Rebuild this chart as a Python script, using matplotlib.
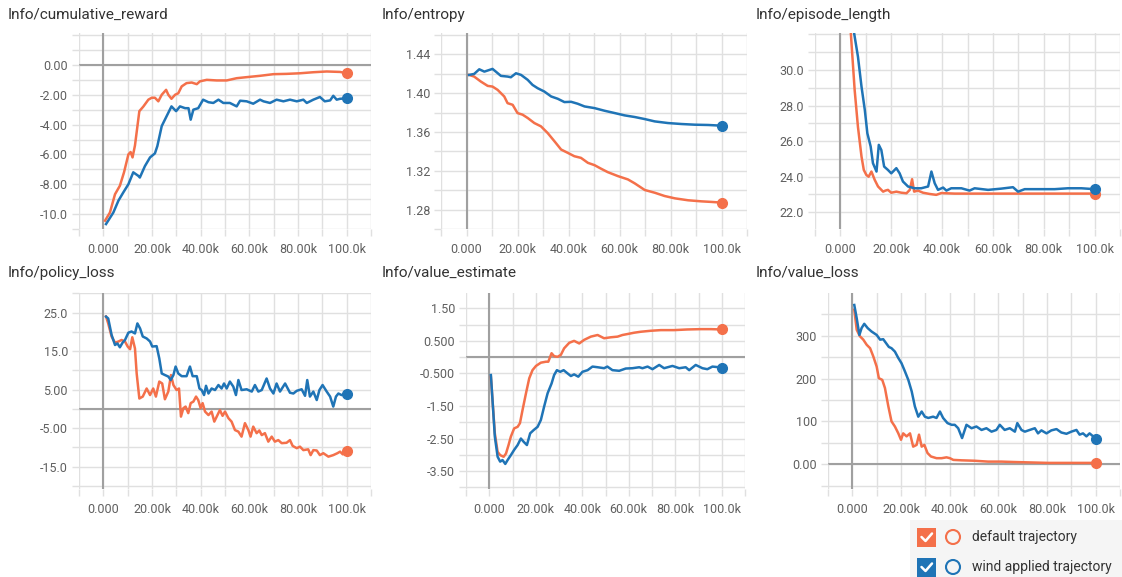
import numpy as np
import matplotlib
matplotlib.use("Agg")
import matplotlib.pyplot as plt
from matplotlib.patches import Rectangle, Circle

plt.rcParams['font.family'] = ['Roboto', 'DejaVu Sans']

ORANGE = '#f4704a'
BLUE = '#1f74b6'
GRID = '#e0e0e0'
ZERO = '#a0a0a0'

# steps are in thousands
# --- cumulative reward
reward_x_def = [0.7, 2.7, 4.8, 6.8, 8.5, 10.3, 11.2, 12, 13, 14.8, 16.4, 18.5, 19.9, 21.2, 22.6, 24, 25.8, 26.7, 28,
                29.5, 30.8, 32.2, 34.2, 36.3, 38.4, 39.7, 42.5, 46.6, 50.7, 54.8, 58.9, 64.4, 69.9, 75.3, 80.8, 86.3,
                91.8, 97.3, 100]
reward_def = [-10.44, -9.9, -8.67, -8.1, -7.2, -6.0, -5.84, -6.2, -5.4, -3.1, -2.8, -2.33, -2.2, -2.2, -2.44, -2.0,
              -1.67, -2.0, -2.27, -2.0, -1.9, -1.44, -1.22, -1.18, -1.29, -1.1, -1.0, -1.04, -1.04, -0.89, -0.82,
              -0.73, -0.62, -0.6, -0.56, -0.49, -0.44, -0.47, -0.56]
reward_x_wind = [1.1, 2, 4.1, 6.2, 8.2, 10.3, 12.3, 14.4, 15, 17.1, 19.2, 21.2, 22.2, 24, 26, 28, 29.9, 31.5, 33.6, 35,
                 35.9, 37, 39, 41, 43.2, 45.2, 47.3, 49.3, 52, 54.8, 56.2, 58.9, 61.6, 64.4, 65.8, 68.5, 71.2, 74,
                 76.7, 79.5, 82.2, 83.6, 86.3, 89, 91, 93.2, 94.5, 95.9, 97.3, 100]
reward_wind = [-10.67, -10.44, -9.9, -9.1, -8.55, -8.0, -7.2, -7.44, -7.55, -6.78, -6.2, -5.93, -5.44, -4.1, -3.44,
               -2.78, -3.1, -2.78, -2.9, -2.9, -3.67, -3.0, -2.9, -2.33, -2.5, -2.55, -2.33, -2.55, -2.55, -2.78,
               -2.4, -2.44, -2.6, -2.33, -2.44, -2.55, -2.33, -2.44, -2.33, -2.44, -2.33, -2.55, -2.33, -2.15,
               -2.44, -2.38, -2.07, -2.33, -2.27, -2.24]

# --- entropy
entropy_x_def = [1, 3, 5.6, 8.3, 10.2, 12.2, 14.8, 16.1, 18.1, 20, 22, 24, 26.6, 29.2, 31.8, 34.5, 37.1, 39.7, 42.3,
                 44.9, 47.6, 50.2, 52.8, 55.4, 59.4, 63.3, 66, 69.9, 73.8, 77.7, 81.7, 86.9, 92.1, 96.1, 100]
entropy_def = [1.4188, 1.4171, 1.412, 1.4075, 1.4068, 1.4034, 1.3966, 1.3897, 1.388, 1.3795, 1.3778, 1.3744, 1.3692,
               1.3658, 1.359, 1.3504, 1.3419, 1.3385, 1.335, 1.3333, 1.3282, 1.3258, 1.3221, 1.3186, 1.3145, 1.3111,
               1.307, 1.3002, 1.2974, 1.294, 1.2916, 1.2896, 1.2885, 1.2879, 1.2872]
entropy_x_wind = [1, 3, 5, 7, 10.2, 11.5, 13.5, 16.1, 17.4, 19.4, 21.4, 24, 25.9, 27.9, 30.5, 33.2, 35.8, 38.4, 41,
                  43.6, 46.3, 50.2, 54.1, 58.1, 62, 66, 69.9, 73.8, 79, 84.3, 89.5, 94.8, 100]
entropy_wind = [1.4188, 1.4198, 1.4246, 1.4222, 1.425, 1.4222, 1.4178, 1.4171, 1.4164, 1.4205, 1.4188, 1.4137,
                1.4085, 1.4051, 1.4017, 1.3966, 1.3942, 1.3908, 1.3911, 1.3891, 1.3863, 1.3846, 1.3819, 1.3795,
                1.3771, 1.3754, 1.3733, 1.3709, 1.3692, 1.3682, 1.3675, 1.3672, 1.3665]

# --- episode length
eplen_x_def = [3.0, 4.1, 5.6, 6.9, 8.3, 9.2, 10.2, 11.1, 12.2, 13.5, 14.8, 16.8, 17.7, 18.7, 20, 22, 24, 26, 27.3,
               28.2, 29, 30.5, 32.5, 35.1, 37.7, 39.7, 45, 55.4, 68.5, 81.7, 100]
eplen_def = [38.0, 32.06, 28.88, 26.8, 25.13, 24.38, 24.1, 24.0, 24.29, 23.82, 23.45, 23.16, 23.22, 23.26, 23.1,
             23.16, 23.1, 23.07, 23.26, 23.86, 23.16, 23.22, 23.1, 23.03, 22.98, 23.08, 23.05, 23.05, 23.05, 23.05,
             23.05]
eplen_x_wind = [3.5, 5.4, 6.9, 8.3, 9.6, 10.6, 11.9, 12.8, 14.2, 15.1, 16.1, 17.2, 18.7, 20, 22, 23.3, 24.6, 26.6,
                29.2, 31.8, 34.5, 35.8, 37.1, 38.4, 40.4, 41.7, 43.6, 47.6, 50.8, 52.8, 58.1, 63.3, 67.9, 69.9,
                72.5, 77.7, 84.3, 89.5, 94.8, 100]
eplen_wind = [38.0, 32.06, 30.75, 29.06, 27.75, 26.44, 25.7, 24.76, 24.29, 25.79, 25.5, 24.57, 24.38, 24.19, 24.48,
              24.19, 23.73, 23.45, 23.35, 23.35, 23.45, 24.29, 23.63, 23.26, 23.39, 23.22, 23.35, 23.35, 23.22,
              23.35, 23.26, 23.33, 23.41, 23.16, 23.3, 23.3, 23.3, 23.35, 23.35, 23.3]

# --- policy loss
policy_x_def = [1.1, 2, 3.4, 4.8, 6.2, 7.5, 8.9, 10, 11, 11.9, 13, 13.7, 14.8, 16.2, 17.8, 19.2, 20.5, 21.6, 23, 24.2,
                25.3, 26.7, 27.8, 28.8, 30.1, 31.1, 31.9, 32.9, 33.8, 34.9, 35.9, 37, 38.1, 39, 40, 40.8, 41.8,
                43.2, 44.5, 45.6, 46.6, 47.9, 49, 50, 51.4, 52.7, 54.1, 55.5, 56.8, 58.2, 59.6, 60.5, 61.6, 63,
                64.1, 65.1, 66.4, 67.8, 69.2, 70.5, 71.9, 73.3, 75.3, 76.7, 77.8, 79.5, 80.8, 82.2, 84.2, 85.2,
                86.3, 87.7, 89, 90.4, 92.5, 94.5, 96.2, 97.3, 98.4, 100]
policy_def = [24.0, 22.2, 18.8, 17.2, 17.5, 17.9, 17.5, 16.2, 15.5, 18.6, 15.7, 9.2, 2.7, 3.2, 5.3, 3.6, 5.3, 3.2,
              7.1, 6.6, 2.5, 4.5, 8.8, 6.2, 4.9, 5.3, -2.0, 0.2, 0.6, -1.1, 1.5, 1.9, 3.2, 2.3, 0.2, 1.5, -0.7,
              -1.6, -0.7, -3.3, -2.0, -0.3, -1.8, -0.7, -2.4, -3.3, -5.5, -5.9, -7.2, -3.7, -5.5, -7.2, -4.6,
              -6.3, -5.6, -6.8, -6.3, -8.5, -7.2, -8.5, -8.1, -8.9, -8.8, -8.1, -9.6, -10.2, -9.8, -10.7, -10.5,
              -12.0, -10.7, -10.8, -12.0, -11.5, -12.4, -12.0, -11.5, -11.1, -11.8, -10.9]
policy_x_wind = [1.1, 2, 3.4, 4.8, 5.8, 6.8, 7.9, 8.9, 10.3, 11.6, 13, 14, 15.1, 16.2, 17.8, 19.2, 20.1, 21.9, 23,
                 24, 25.3, 26.7, 27.7, 28.8, 29.7, 30.8, 32.2, 34.2, 35.6, 36.7, 38.4, 39.5, 40.4, 41.4, 42.2,
                 43.2, 44.5, 45.9, 47.3, 48.6, 49.6, 50.7, 52, 53.4, 54.5, 55.5, 56.8, 58.9, 61, 62.3, 63.7,
                 65.1, 67.1, 68.5, 69.9, 71.2, 72.6, 74.7, 76.7, 78.1, 79.5, 81.5, 82.9, 83.8, 84.9, 86.3, 87.7,
                 88.8, 90.1, 91.8, 93.2, 94.5, 95.6, 96.6, 97.9, 100]
policy_wind = [23.96, 23.5, 19.2, 16.6, 17.0, 16.0, 17.2, 17.9, 19.8, 20.1, 19.6, 22.2, 20.9, 18.8, 18.3, 17.5, 16.2,
               16.3, 13.1, 9.2, 8.8, 8.4, 7.5, 8.8, 11.0, 9.2, 8.5, 8.5, 11.0, 8.5, 8.5, 5.3, 4.9, 3.6, 6.0, 4.0,
               5.3, 4.9, 6.2, 5.3, 6.6, 5.3, 7.1, 5.8, 3.6, 7.5, 4.9, 5.1, 4.5, 6.2, 4.5, 4.9, 7.9, 5.3, 4.0, 6.6,
               4.5, 6.6, 4.2, 4.0, 4.7, 5.1, 3.4, 7.5, 3.2, 4.5, 2.3, 4.9, 6.2, 4.5, 3.2, 0.6, 3.2, 4.0, 3.6, 3.8]

# --- value estimate
vest_x_def = [0.7, 1.4, 2.4, 3.6, 4.7, 6.2, 7.2, 8.3, 9.3, 10.7, 12.2, 13.2, 14.3, 15.8, 17.2, 18.6, 20.1, 22.2, 24.4,
              25.4, 26.8, 27.9, 29.4, 30.8, 32.2, 34.4, 36.5, 38.7, 40.8, 43.7, 46.6, 49.4, 52.3, 55.2, 57.3, 59.5,
              62.3, 65.2, 69.5, 73.8, 79.5, 85.2, 91, 95.3, 100]
vest_def = [-0.6, -1.32, -2.34, -2.91, -3.01, -3.06, -2.96, -2.7, -2.44, -2.19, -2.14, -2.03, -1.63, -1.11, -0.65,
            -0.4, -0.27, -0.17, -0.14, -0.14, 0.12, 0.03, 0.01, 0.07, 0.27, 0.44, 0.5, 0.42, 0.53, 0.63, 0.68, 0.58,
            0.61, 0.63, 0.68, 0.71, 0.75, 0.78, 0.81, 0.83, 0.83, 0.85, 0.86, 0.86, 0.85]
vest_x_wind = [0.7, 1.4, 2.4, 3.6, 4.7, 5.7, 6.9, 7.9, 9.3, 10.7, 12.2, 13.6, 14.8, 16.2, 17.6, 19.1, 20.8, 22.2,
               23.6, 25.1, 26.8, 27.9, 29.1, 30.5, 32, 33.7, 35.1, 36.5, 38.3, 40.1, 42.3, 44.4, 46.6, 49.4, 50.8,
               53, 55.9, 58.7, 61.6, 64.5, 65.9, 68.1, 70.2, 73.1, 75.2, 78.8, 81.7, 84.5, 86, 88.8, 91.7, 93.8,
               96, 100]
vest_wind = [-0.55, -1.32, -2.44, -3.06, -3.21, -3.16, -3.28, -3.16, -3.01, -2.85, -2.7, -2.5, -2.6, -2.7, -2.34,
             -2.24, -2.14, -1.93, -1.52, -1.11, -0.81, -0.55, -0.4, -0.45, -0.4, -0.5, -0.58, -0.53, -0.6, -0.45,
             -0.4, -0.29, -0.31, -0.34, -0.29, -0.4, -0.42, -0.35, -0.34, -0.31, -0.34, -0.29, -0.37, -0.24, -0.34,
             -0.27, -0.34, -0.31, -0.4, -0.24, -0.34, -0.37, -0.29, -0.32]

# --- value loss
vloss_x_def = [0.8, 1.8, 3.1, 4.5, 5.9, 7.3, 8.6, 10, 10.9, 12.3, 13.4, 14.8, 16.1, 17.5, 18.9, 20, 20.9, 22.3, 23.7,
               25, 26.4, 27.4, 28.5, 29.6, 30.9, 32.3, 34.6, 36.7, 38.7, 40.1, 41.5, 44.9, 50.3, 55.8, 61.3, 66.8,
               73.6, 80.4, 87.3, 94.1, 100]
vloss_def = [361, 314, 299, 291, 279, 271, 252, 228, 201, 197, 178, 135, 100, 88, 72, 57, 72, 65, 72, 41, 45, 69, 41,
             45, 26, 18, 14, 14, 16, 14, 10, 9, 8, 6, 6, 5, 4, 3, 3, 3, 3]
vloss_x_wind = [0.8, 1.8, 2.9, 3.8, 4.9, 6.3, 7.9, 10, 11.4, 12.7, 14.1, 15, 16.1, 17.5, 18.9, 20.2, 21.6, 23, 24.4,
                25.7, 27.1, 28.5, 29.8, 31.2, 33.2, 34.6, 36, 37.3, 39.1, 40.8, 42.1, 43.5, 45.1, 46.9, 49, 51,
                53.1, 55.1, 57.2, 59.2, 60.6, 62.6, 64.7, 66.8, 67.8, 69.5, 70.9, 72.9, 75, 76.3, 77.7, 79.8, 81.8,
                83.9, 85.9, 88, 90, 92.1, 93.4, 94.8, 96.2, 97.5, 100]
vloss_wind = [372, 341, 302, 318, 328, 318, 310, 302, 291, 292, 281, 274, 271, 263, 248, 236, 217, 197, 170, 135,
              111, 123, 111, 108, 111, 108, 123, 108, 96, 92, 92, 84, 61, 92, 84, 88, 80, 84, 76, 80, 92, 80, 84,
              76, 96, 80, 76, 80, 84, 72, 79, 72, 79, 82, 74, 71, 76, 80, 69, 72, 65, 72, 60]

titles = ['Info/cumulative_reward', 'Info/entropy', 'Info/episode_length',
          'Info/policy_loss', 'Info/value_estimate', 'Info/value_loss']

x_tick_labels = ['0.000', '20.00k', '40.00k', '60.00k', '80.00k', '100.0k']

panels = [
    dict(xd=reward_x_def, yd=reward_def, xw=reward_x_wind, yw=reward_wind,
         ylim=(-11, 2.14), grid=np.arange(-11, 2.1, 1.0),
         yt=[-10, -8, -6, -4, -2, 0], ytl=['-10.0', '-8.00', '-6.00', '-4.00', '-2.00', '0.00'], zero=True),
    dict(xd=entropy_x_def, yd=entropy_def, xw=entropy_x_wind, yw=entropy_wind,
         ylim=(1.2605, 1.462), grid=np.arange(1.26, 1.461, 0.02),
         yt=[1.28, 1.32, 1.36, 1.40, 1.44], ytl=['1.28', '1.32', '1.36', '1.40', '1.44'], zero=False),
    dict(xd=eplen_x_def, yd=eplen_def, xw=eplen_x_wind, yw=eplen_wind,
         ylim=(21.06, 32.08), grid=np.arange(22, 32.1, 1.0),
         yt=[22, 24, 26, 28, 30], ytl=['22.0', '24.0', '26.0', '28.0', '30.0'], zero=False),
    dict(xd=policy_x_def, yd=policy_def, xw=policy_x_wind, yw=policy_wind,
         ylim=(-20.8, 30.1), grid=np.arange(-20, 30.1, 5.0),
         yt=[-15, -5, 5, 15, 25], ytl=['-15.0', '-5.00', '5.00', '15.0', '25.0'], zero=True),
    dict(xd=vest_x_def, yd=vest_def, xw=vest_x_wind, yw=vest_wind,
         ylim=(-4.05, 1.97), grid=np.arange(-4.0, 1.96, 0.5),
         yt=[-3.5, -2.5, -1.5, -0.5, 0.5, 1.5], ytl=['-3.50', '-2.50', '-1.50', '-0.500', '0.500', '1.50'], zero=True),
    dict(xd=vloss_x_def, yd=vloss_def, xw=vloss_x_wind, yw=vloss_wind,
         ylim=(-58, 400), grid=np.arange(-50, 400, 50.0),
         yt=[0, 100, 200, 300], ytl=['0.00', '100', '200', '300'], zero=True),
]

W, H = 1122, 577
fig = plt.figure(figsize=(W / 100, H / 100), dpi=100)

# axes boxes in pixels: left, right, top, bottom
boxes = [(79, 371, 33, 229), (441, 747, 33, 229), (815, 1120, 33, 229),
         (79, 371, 293, 489), (466, 745, 293, 489), (828, 1120, 293, 489)]
title_pos = [(8, 15), (382, 15), (756, 15), (8, 273), (382, 273), (756, 273)]

for i, p in enumerate(panels):
    l, r, t, b = boxes[i]
    ax = fig.add_axes([l / W, 1 - b / H, (r - l) / W, (b - t) / H])
    ax.set_xlim(-10000, 110000)
    ax.set_ylim(*p['ylim'])
    for s in ax.spines.values():
        s.set_visible(False)
    xg = np.arange(-10000, 110001, 10000)
    for xv in xg:
        ax.axvline(xv, color=GRID, lw=1, zorder=0)
    for yv in p['grid']:
        ax.axhline(yv, color=GRID, lw=1, zorder=0)
    ax.axvline(0, color=ZERO, lw=1.5, zorder=1)
    if p['zero']:
        ax.axhline(0, color=ZERO, lw=1.5, zorder=1)

    ax.set_xticks(xg, minor=True)
    ax.set_xticks(np.arange(0, 100001, 20000))
    ax.set_xticklabels(x_tick_labels)
    ax.set_yticks(p['grid'], minor=True)
    ax.set_yticks(p['yt'])
    ax.set_yticklabels(p['ytl'])
    ax.tick_params(which='both', length=5, color=GRID, width=1, labelsize=9, labelcolor='#5f5f5f')
    ax.tick_params(axis='x', which='both', pad=5)
    ax.tick_params(axis='y', which='both', pad=3)

    xd = np.array(p['xd']) * 1000
    xw = np.array(p['xw']) * 1000
    ax.plot(xd, p['yd'], color=ORANGE, lw=1.8, zorder=3, solid_joinstyle='round')
    ax.plot(xw, p['yw'], color=BLUE, lw=1.8, zorder=4, solid_joinstyle='round')
    ax.plot(xd[-1], p['yd'][-1], 'o', color=ORANGE, ms=7, zorder=5)
    ax.plot(xw[-1], p['yw'][-1], 'o', color=BLUE, ms=7, zorder=6)

    tx, ty = title_pos[i]
    fig.text(tx / W, 1 - ty / H, titles[i], fontsize=11, color='#333333', va='center', ha='left')

# legend panel
lax = fig.add_axes([0, 0, 1, 1])
lax.set_xlim(0, W)
lax.set_ylim(H, 0)
lax.axis('off')
lax.add_patch(Rectangle((910, 520), 212, 57, facecolor='#f5f5f5', edgecolor='none'))
legend_items = [('default trajectory', ORANGE, 537), ('wind applied trajectory', BLUE, 567)]
for label, col, yc in legend_items:
    lax.add_patch(Rectangle((917, yc - 9.5), 19, 19, facecolor=col, edgecolor='none'))
    lax.plot([921.5, 925.5, 932], [yc, yc + 4, yc - 3.5], color='white', lw=1.8, solid_capstyle='round')
    lax.add_patch(Circle((953, yc), 7, facecolor='none', edgecolor=col, lw=1.5))
    lax.text(972, yc, label, fontsize=10, color='#333333', va='center', ha='left')

fig.savefig('out.png', dpi=100)
